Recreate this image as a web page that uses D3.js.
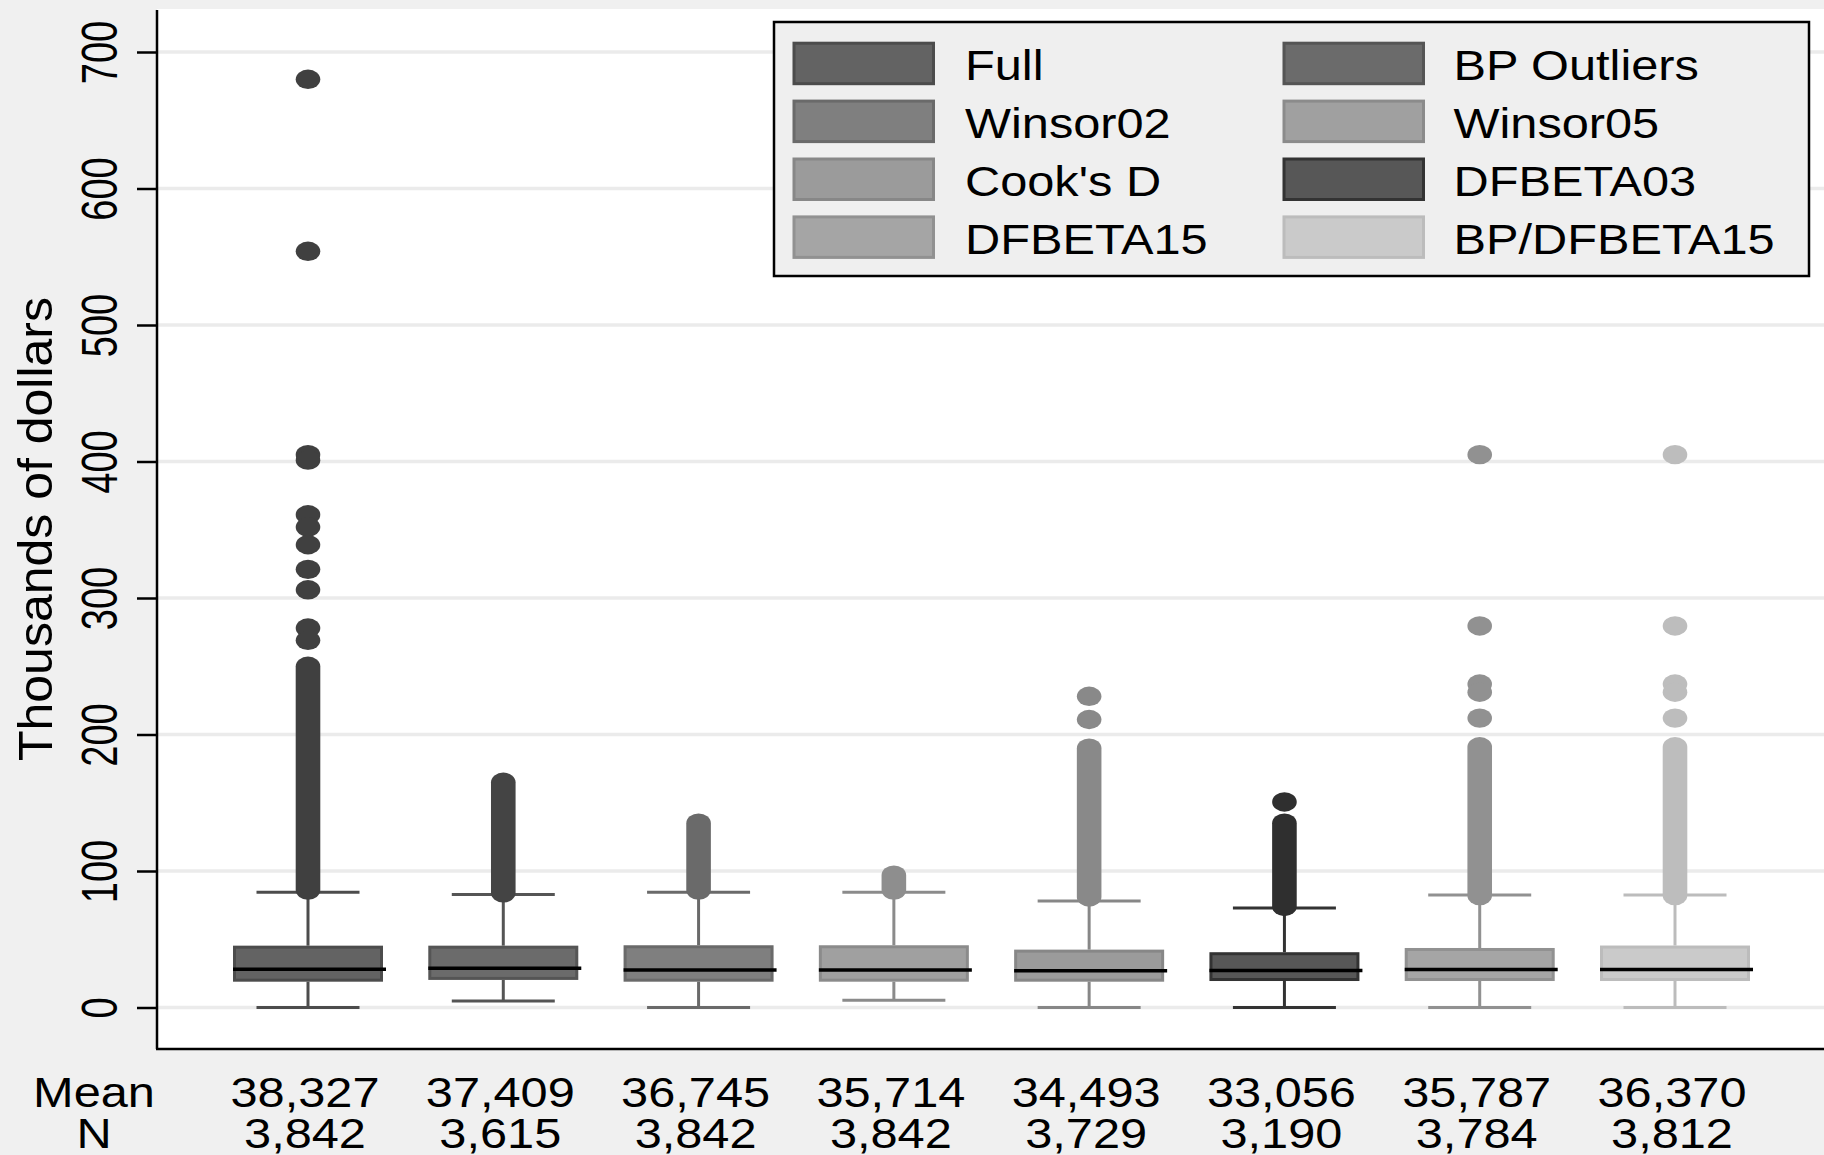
<!DOCTYPE html>
<html>
<head>
<meta charset="utf-8">
<script src="https://cdn.jsdelivr.net/npm/d3@7"></script>
<style>
  html, body { margin: 0; padding: 0; background: #f0f0f0; }
  svg { display: block; }
  text { font-family: "Liberation Sans", Arial, sans-serif; fill: #000; }
</style>
</head>
<body>
<svg id="chart" width="1824" height="1155"></svg>
<script>
// ---------------- data ----------------
const categories = ["Full", "BP Outliers", "Winsor02", "Winsor05", "Cook's D", "DFBETA03", "DFBETA15", "BP/DFBETA15"];
const lowerWhisker = [0, 4.8, 0, 5.3, 0, 0, 0, 0];
const q1 = [18.9, 20.2, 18.9, 18.9, 18.9, 19.4, 19.4, 19.4];
const median = [28.0, 28.7, 27.5, 27.5, 27.0, 27.1, 27.8, 27.8];
const q3 = [45.3, 45.3, 45.6, 45.6, 42.4, 40.5, 43.6, 45.4];
const upperWhisker = [84.5, 82.7, 84.4, 84.4, 78.1, 72.9, 82.5, 82.5];
// isolated outliers (thousands of dollars)
const outlierPoints = [
  [680, 554, 405, 401, 361, 352, 339, 321, 306, 278, 269],
  [],
  [],
  [],
  [228, 211],
  [150.6],
  [405, 279.5, 237, 231, 212],
  [405, 279.5, 237, 231, 212]
];
// dense runs of overlapping outliers [lowest, highest]
const outlierRuns = [[86, 250], [84, 165], [86, 135], [86, 97], [81, 190], [74, 135], [82, 191], [82, 191]];
const meanLabels = ["38,327", "37,409", "36,745", "35,714", "34,493", "33,056", "35,787", "36,370"];
const nLabels = ["3,842", "3,615", "3,842", "3,842", "3,729", "3,190", "3,784", "3,812"];
const yTicks = [0, 100, 200, 300, 400, 500, 600, 700];
const yTitle = "Thousands of dollars";

// ---------------- styles ----------------
const fillColors = ["#636363", "#6b6b6b", "#7f7f7f", "#a0a0a0", "#9b9b9b", "#575757", "#a5a5a5", "#cacaca"];
const lineColors = ["#4c4c4c", "#555555", "#6a6a6a", "#8b8b8b", "#878787", "#333333", "#919191", "#bcbcbc"];
const dotColors  = ["#404040", "#444444", "#6a6a6a", "#8e8e8e", "#898989", "#2f2f2f", "#919191", "#bdbdbd"];

const W = 1824, H = 1155;
const plot = { left: 157, top: 9, right: 1824, bottom: 1049 };
const svg = d3.select("#chart");

const y = d3.scaleLinear().domain([0, 700]).range([1007.5, 52]);
const x = d3.scalePoint().domain(categories).range([308, 1675]);

const boxW = 150, capW = 103, dotRx = 12.3, dotRy = 9.7;
const stretch = 1.16;

// background
svg.append("rect").attr("width", W).attr("height", H).attr("fill", "#f0f0f0");
svg.append("rect")
  .attr("x", plot.left).attr("y", plot.top)
  .attr("width", plot.right - plot.left).attr("height", plot.bottom - plot.top)
  .attr("fill", "#ffffff");

// gridlines
svg.append("g").selectAll("line").data(yTicks).join("line")
  .attr("x1", plot.left + 1).attr("x2", plot.right)
  .attr("y1", d => y(d)).attr("y2", d => y(d))
  .attr("stroke", "#ebebeb").attr("stroke-width", 3.5);

// boxes
const gBox = svg.append("g");
categories.forEach((c, i) => {
  const cx = x(c);
  const g = gBox.append("g");
  // whiskers
  g.append("line").attr("x1", cx).attr("x2", cx)
    .attr("y1", y(q3[i])).attr("y2", y(upperWhisker[i]))
    .attr("stroke", lineColors[i]).attr("stroke-width", 3);
  g.append("line").attr("x1", cx).attr("x2", cx)
    .attr("y1", y(q1[i])).attr("y2", y(lowerWhisker[i]))
    .attr("stroke", lineColors[i]).attr("stroke-width", 3);
  [upperWhisker[i], lowerWhisker[i]].forEach(v => {
    g.append("line").attr("x1", cx - capW / 2).attr("x2", cx + capW / 2)
      .attr("y1", y(v)).attr("y2", y(v))
      .attr("stroke", lineColors[i]).attr("stroke-width", 3);
  });
  // box
  g.append("rect")
    .attr("x", cx - boxW / 2 + 1.5).attr("y", y(q3[i]) + 1.5)
    .attr("width", boxW - 3).attr("height", y(q1[i]) - y(q3[i]) - 3)
    .attr("fill", fillColors[i]).attr("stroke", lineColors[i]).attr("stroke-width", 3);
  // median
  g.append("line").attr("x1", cx - boxW / 2).attr("x2", cx + boxW / 2 + 3)
    .attr("y1", y(median[i])).attr("y2", y(median[i]))
    .attr("stroke", "#000").attr("stroke-width", 3.5);
  // outlier runs
  const r = outlierRuns[i];
  g.append("rect")
    .attr("x", cx - dotRx).attr("width", dotRx * 2)
    .attr("y", y(r[1]) - dotRy).attr("height", y(r[0]) - y(r[1]) + 2 * dotRy)
    .attr("rx", dotRx).attr("ry", dotRy)
    .attr("fill", dotColors[i]);
  // isolated outliers
  g.selectAll("ellipse").data(outlierPoints[i]).join("ellipse")
    .attr("cx", cx).attr("cy", d => y(d))
    .attr("rx", dotRx).attr("ry", dotRy)
    .attr("fill", dotColors[i]);
});

// axes lines
svg.append("line").attr("x1", plot.left).attr("x2", plot.left)
  .attr("y1", plot.top + 1).attr("y2", plot.bottom)
  .attr("stroke", "#000").attr("stroke-width", 2.5);
svg.append("line").attr("x1", plot.left - 1).attr("x2", plot.right)
  .attr("y1", plot.bottom).attr("y2", plot.bottom)
  .attr("stroke", "#000").attr("stroke-width", 2.5);

// y axis ticks and labels
const yAxis = d3.axisLeft(y).tickValues(yTicks).tickSize(20).tickFormat(d3.format("d"));
const gy = svg.append("g").attr("transform", `translate(${plot.left},0)`).call(yAxis);
gy.select(".domain").remove();
gy.selectAll(".tick line").attr("stroke", "#000").attr("stroke-width", 2.5);
gy.selectAll(".tick text")
  .attr("x", null).attr("dy", null).attr("y", null)
  .attr("text-anchor", "middle")
  .attr("font-size", 38)
  .attr("transform", `translate(-40,0) scale(1.3,1) rotate(-90)`);

// y title
svg.append("text")
  .attr("transform", `translate(52,${(plot.top + plot.bottom) / 2}) scale(0.95,1) rotate(-90)`)
  .attr("text-anchor", "middle").attr("font-size", 50)
  .text(yTitle);

// x labels: Mean / N rows
function hText(sel, tx, ty, str, anchor) {
  sel.append("text")
    .attr("transform", `translate(${tx},${ty}) scale(${stretch},1)`)
    .attr("text-anchor", anchor).attr("font-size", 42)
    .text(str);
}
const gx = svg.append("g");
hText(gx, 94, 1107, "Mean", "middle");
hText(gx, 94, 1148, "N", "middle");
categories.forEach((c, i) => {
  hText(gx, x(c) - 3, 1107, meanLabels[i], "middle");
  hText(gx, x(c) - 3, 1148, nLabels[i], "middle");
});

// legend
const leg = { x: 774, y: 22, w: 1035, h: 254 };
const gl = svg.append("g");
gl.append("rect").attr("x", leg.x).attr("y", leg.y).attr("width", leg.w).attr("height", leg.h)
  .attr("fill", "#efefef").attr("stroke", "#000").attr("stroke-width", 2.5);
const colX = [792.5, 1282.5], textX = [965, 1453.5];
const rowTop = 41.7, rowStep = 57.9, swW = 142.5, swH = 43.5;
categories.forEach((c, i) => {
  const col = i % 2, row = Math.floor(i / 2);
  const ty = rowTop + row * rowStep;
  gl.append("rect")
    .attr("x", colX[col] + 1.5).attr("y", ty + 1.5)
    .attr("width", swW - 3).attr("height", swH - 3)
    .attr("fill", fillColors[i]).attr("stroke", lineColors[i]).attr("stroke-width", 3);
  hText(gl, textX[col], ty + swH / 2 + 17, c, "start");
});
</script>
</body>
</html>
